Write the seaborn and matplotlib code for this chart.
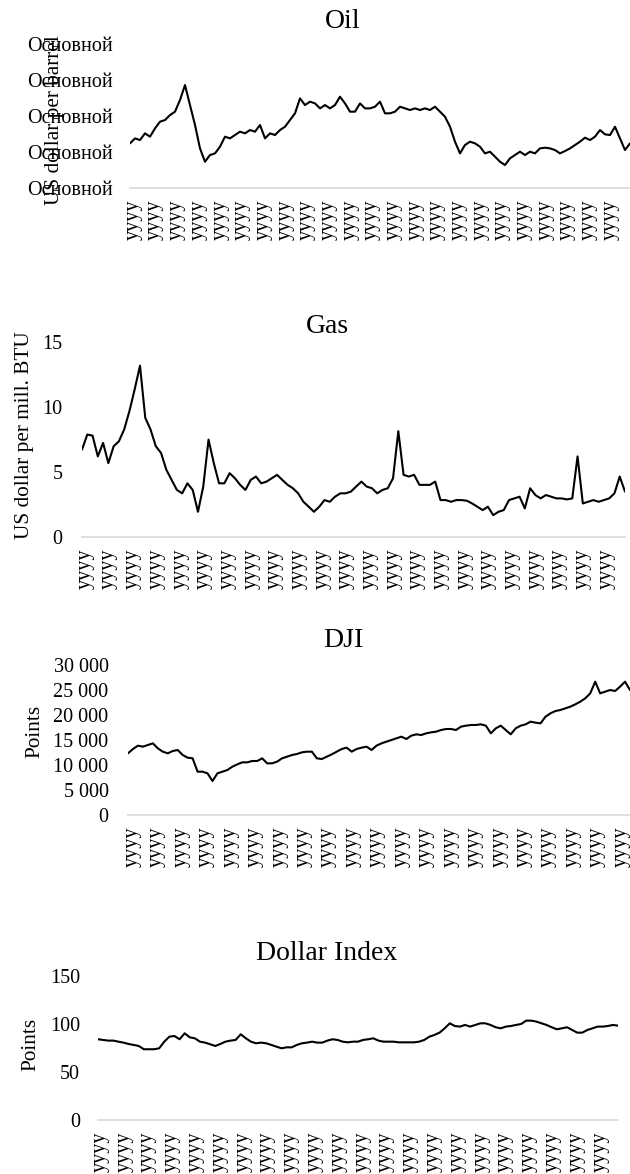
import numpy as np
import pandas as pd
import matplotlib
matplotlib.use("Agg")
import matplotlib.pyplot as plt
import seaborn as sns

# ---------------- data ----------------
oil_values = [62.0, 68.9, 66.6, 75.9, 71.3, 82.8, 92.1, 94.4, 101.3, 106.0,
              122.2, 143.0, 115.2, 87.5, 55.0, 36.5, 45.8, 48.1, 57.4, 71.3,
              68.9, 73.6, 78.2, 75.9, 80.5, 78.2, 87.5, 68.9, 75.9, 73.6,
              80.5, 85.1, 94.4, 103.7, 124.5, 115.2, 119.9, 117.5, 110.6, 115.2,
              110.6, 115.2, 126.8, 117.5, 106.0, 106.0, 117.5, 110.6, 110.6, 112.9,
              119.9, 103.7, 103.7, 106.0, 112.9, 110.6, 108.3, 110.6, 108.3, 110.6,
              108.3, 112.9, 106.0, 99.0, 85.1, 64.3, 48.1, 59.7, 64.3, 62.0,
              57.4, 48.1, 50.4, 43.5, 36.5, 31.9, 41.2, 45.8, 50.4, 45.8,
              50.4, 48.1, 55.0, 56.0, 55.0, 52.7, 48.1, 51.3, 55.0, 59.7,
              64.3, 69.9, 66.6, 71.3, 80.5, 74.5, 73.6, 85.1, 68.9, 52.7,
              62.0]

gas_values = [6.72, 7.88, 7.80, 6.20, 7.24, 5.68, 6.98, 7.36, 8.27, 9.69,
              11.37, 13.18, 9.17, 8.27, 6.98, 6.46, 5.17, 4.39, 3.62, 3.36,
              4.13, 3.62, 1.94, 3.88, 7.49, 5.68, 4.13, 4.13, 4.91, 4.52,
              4.01, 3.62, 4.39, 4.65, 4.13, 4.26, 4.52, 4.78, 4.39, 4.01,
              3.75, 3.36, 2.71, 2.33, 1.94, 2.33, 2.84, 2.71, 3.10, 3.36,
              3.36, 3.49, 3.88, 4.26, 3.88, 3.75, 3.36, 3.62, 3.75, 4.52,
              8.14, 4.78, 4.65, 4.78, 4.01, 4.01, 4.01, 4.26, 2.84, 2.84,
              2.71, 2.84, 2.84, 2.79, 2.58, 2.33, 2.07, 2.33, 1.68, 1.94,
              2.07, 2.84, 2.97, 3.10, 2.20, 3.75, 3.23, 2.97, 3.23, 3.10,
              2.97, 2.97, 2.89, 2.97, 6.20, 2.58, 2.71, 2.84, 2.71, 2.84,
              2.97, 3.36, 4.65, 3.49]

dji_values = [12333, 13200, 13867, 13667, 14000, 14333, 13333, 12667, 12333, 12800,
              13000, 12000, 11467, 11333, 8667, 8667, 8333, 6800, 8333, 8667,
              9000, 9667, 10133, 10533, 10533, 10800, 10800, 11333, 10333, 10333,
              10667, 11333, 11667, 12000, 12200, 12533, 12667, 12667, 11333, 11200,
              11667, 12133, 12667, 13200, 13467, 12667, 13200, 13467, 13667, 13000,
              13867, 14333, 14667, 15000, 15333, 15667, 15200, 15867, 16133, 16000,
              16333, 16533, 16667, 17000, 17200, 17200, 17000, 17667, 17867, 18000,
              18000, 18133, 17867, 16333, 17333, 17867, 17000, 16133, 17333, 17867,
              18133, 18667, 18467, 18333, 19667, 20333, 20800, 21000, 21333, 21667,
              22133, 22667, 23333, 24333, 26667, 24333, 24667, 25000, 24800, 25667,
              26667, 25000]

dollar_values = [84.1, 83.4, 82.7, 82.7, 81.6, 80.6, 79.2, 78.2, 77.1, 73.7,
                 73.7, 73.7, 74.7, 81.6, 86.8, 87.5, 84.1, 90.3, 86.1, 85.1,
                 81.6, 80.6, 78.9, 77.1, 79.2, 81.6, 82.7, 83.4, 89.3, 85.1,
                 81.6, 79.9, 80.6, 79.9, 78.2, 76.4, 74.7, 75.7, 75.7, 78.2,
                 79.9, 80.6, 81.6, 80.6, 80.6, 82.7, 84.1, 83.4, 81.6, 80.9,
                 81.6, 81.6, 83.4, 84.1, 85.1, 82.7, 81.6, 81.6, 81.6, 80.9,
                 80.9, 80.9, 80.9, 81.6, 83.4, 86.8, 88.6, 91.0, 95.5, 100.7,
                 97.9, 97.3, 99.0, 97.3, 99.0, 100.7, 100.7, 99.0, 96.6, 95.5,
                 97.3, 97.9, 99.0, 100.0, 103.5, 103.5, 102.5, 100.7, 99.0, 96.6,
                 94.5, 95.5, 96.6, 93.8, 91.0, 91.0, 93.8, 95.5, 97.3, 97.3,
                 97.9, 99.0, 98.3]

titles = ["Oil", "Gas", "DJI", "Dollar Index"]
ylabels = ["US dollar per barrel", "US dollar per mill. BTU", "Points", "Points"]

oil_yticks = [0, 50, 100, 150, 200]
oil_yticklabels = ["Основной"] * 5
gas_yticks = [0, 5, 10, 15]
gas_yticklabels = ["0", "5", "10", "15"]
dji_yticks = [0, 5000, 10000, 15000, 20000, 25000, 30000]
dji_yticklabels = ["0", "5 000", "10 000", "15 000", "20 000", "25 000", "30 000"]
dollar_yticks = [0, 50, 100, 150]
dollar_yticklabels = ["0", "50", "100", "150"]
x_tick_label = "yyyy"

start_year, end_year = 2007.0, 2019.5

# ---------------- style ----------------
sns.set_theme(style="white")
plt.rcParams["font.family"] = ["Liberation Serif", "DejaVu Serif"]

W, H = 630, 1174
fig = plt.figure(figsize=(W / 100, H / 100), dpi=100)

panels = [
    # values, yticks, yticklabels, ylim, (left, right, top, bottom) px, n_xticks, tick frac range, ypad,
    # title (x, baseline y), ylabel center (x, y)
    dict(vals=oil_values, yt=oil_yticks, ytl=oil_yticklabels, ylim=(0, 200),
         box=(130, 630, 44, 188), nt=23, fr=(0.006, 0.96), ypad=12,
         title_xy=(343, 28), ylab_xy=(55, 120)),
    dict(vals=gas_values, yt=gas_yticks, ytl=gas_yticklabels, ylim=(0, 15),
         box=(82, 625, 342, 537), nt=23, fr=(0.0055, 0.965), ypad=14,
         title_xy=(327, 333), ylab_xy=(24, 435)),
    dict(vals=dji_values, yt=dji_yticks, ytl=dji_yticklabels, ylim=(0, 30000),
         box=(128, 630, 665, 815), nt=21, fr=(0.008, 0.982), ypad=14,
         title_xy=(343, 647), ylab_xy=(35, 731)),
    dict(vals=dollar_values, yt=dollar_yticks, ytl=dollar_yticklabels, ylim=(0, 150),
         box=(98, 618, 976, 1120), nt=22, fr=(0.004, 0.965), ypad=13,
         title_xy=(327, 960), ylab_xy=(31, 1044)),
]

for p, title, ylab in zip(panels, titles, ylabels):
    left, right, top, bottom = p["box"]
    ax = fig.add_axes([left / W, 1 - bottom / H, (right - left) / W, (bottom - top) / H])
    vals = p["vals"]
    df = pd.DataFrame({"year": np.linspace(start_year, end_year, len(vals)), "value": vals})
    sns.lineplot(data=df, x="year", y="value", ax=ax, color="black", linewidth=1.5)
    ax.set_xlim(start_year, end_year)
    ax.set_ylim(*p["ylim"])
    span = end_year - start_year
    xt = start_year + span * np.linspace(p["fr"][0], p["fr"][1], p["nt"])
    ax.set_xticks(xt)
    ax.set_xticklabels([x_tick_label] * p["nt"], rotation=90)
    ax.set_yticks(p["yt"])
    ax.set_yticklabels(p["ytl"])
    ax.set_xlabel("")
    ax.set_ylabel("")
    ax.tick_params(axis="both", length=0, labelsize=14.5, colors="black")
    ax.tick_params(axis="y", pad=p["ypad"])
    ax.tick_params(axis="x", pad=8)
    for s in ("left", "right", "top"):
        ax.spines[s].set_visible(False)
    ax.spines["bottom"].set_color("#d9d9d9")
    ax.spines["bottom"].set_linewidth(1.2)
    ax.grid(False)
    ax.set_facecolor("none")
    tx, ty = p["title_xy"]
    fig.text(tx / W, 1 - ty / H, title, ha="center", va="baseline", fontsize=20, color="black")
    lx, ly = p["ylab_xy"]
    fig.text(lx / W, 1 - ly / H, ylab, ha="center", va="center", rotation=90,
             fontsize=15.3, color="black")

fig.savefig("out.png", dpi=100)
